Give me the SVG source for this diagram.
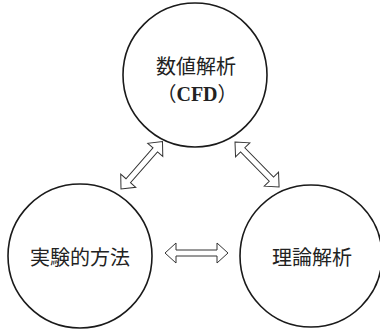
<svg xmlns="http://www.w3.org/2000/svg" xmlns:xlink="http://www.w3.org/1999/xlink" width="380" height="332" viewBox="0 0 380 332">
<style>
.node circle{fill:#fff;stroke:#1a1a1a;stroke-width:1.6}
.lbl{font-family:"Noto Sans CJK JP","Noto Sans",sans-serif;font-size:20px;fill:#222;text-anchor:middle}
.cfd{font-family:"Liberation Serif","Noto Sans CJK JP",serif;font-weight:bold;font-size:20px;fill:#222;text-anchor:middle}
.par{font-weight:normal}
.arr{fill:#fff;stroke:#333;stroke-width:1;stroke-linejoin:miter}
</style>
<defs>
<path id="dbl" class="arr" d="M0,0 L11,-10 L11,-3 L52,-3 L52,-10 L63,0 L52,10 L52,3 L11,3 L11,10 Z"/>
</defs>
<rect width="380" height="332" fill="#fff"/>
<g id="cfd" class="node">
<circle cx="195" cy="75" r="72"/>
<text class="lbl" x="196" y="74">数値解析</text>
<text class="cfd" x="197" y="101"><tspan class="par">（</tspan>CFD<tspan class="par">）</tspan></text>
</g>
<g id="experiment" class="node">
<circle cx="80" cy="256" r="72"/>
<text class="lbl" x="80" y="265">実験的方法</text>
</g>
<g id="theory" class="node">
<circle cx="311" cy="256" r="71"/>
<text class="lbl" x="312" y="265">理論解析</text>
</g>
<g id="connectors">
<use xlink:href="#dbl" transform="translate(121,189) rotate(-48.8)"/>
<use xlink:href="#dbl" transform="translate(235,142) rotate(45.6)"/>
<use xlink:href="#dbl" transform="translate(165,253)"/>
</g>
</svg>
